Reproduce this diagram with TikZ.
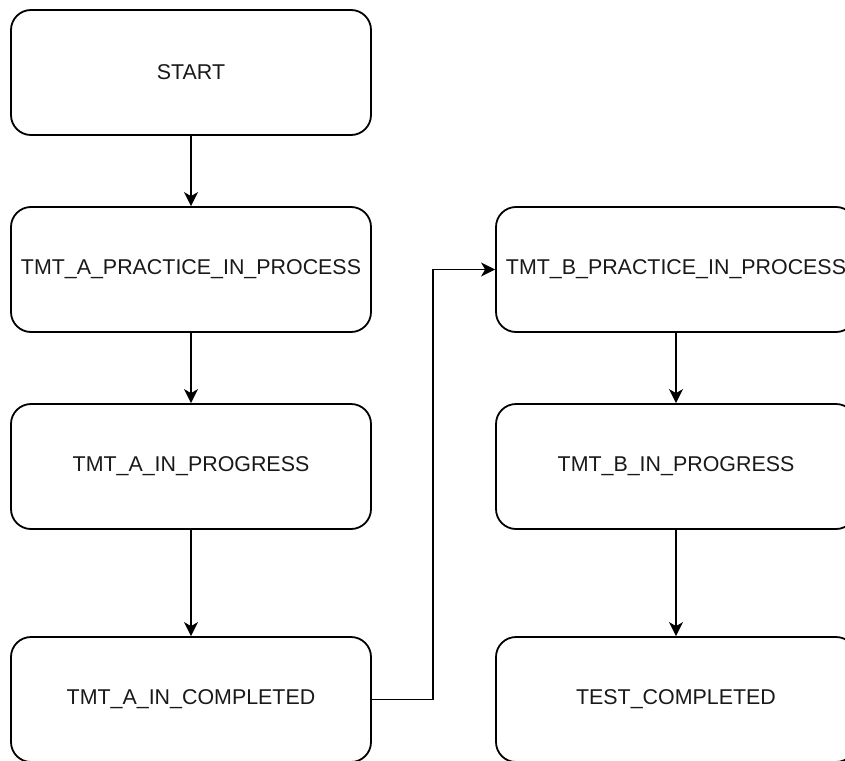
\documentclass[tikz,border=0pt]{standalone}
\usepackage{fontspec}
\setmainfont{Liberation Sans}
\usetikzlibrary{arrows.meta}

\begin{document}
\begin{tikzpicture}[x=1pt, y=-1pt,
  state/.style={draw=black, line width=1.8pt, rounded corners=20pt,
    minimum width=360pt, minimum height=125pt, inner sep=0pt,
    font=\fontsize{21.4}{26}\selectfont, text=black!90},
  flow/.style={line width=1.8pt,
    -{Stealth[length=14pt, width=14pt, inset=4pt]}}]

  \useasboundingbox (0,0) rectangle (845,760);

  % left column
  \node[state] (start) at (191,72.5)  {START};
  \node[state] (apr)   at (191,269.5) {TMT\_A\_PRACTICE\_IN\_PROCESS};
  \node[state] (aip)   at (191,466.5) {TMT\_A\_IN\_PROGRESS};
  \node[state] (acmp)  at (191,699.5) {TMT\_A\_IN\_COMPLETED};

  % right column
  \node[state] (bpr)   at (676,269.5) {TMT\_B\_PRACTICE\_IN\_PROCESS};
  \node[state] (bip)   at (676,466.5) {TMT\_B\_IN\_PROGRESS};
  \node[state] (tcmp)  at (676,699.5) {TEST\_COMPLETED};

  % bend point of the link between the columns
  \coordinate (jog) at (433,480);

  \draw[flow] (start) -- (apr);
  \draw[flow] (apr) -- (aip);
  \draw[flow] (aip) -- (acmp);
  \draw[flow] (acmp.east) -- (acmp.east -| jog) |- (bpr.west);
  \draw[flow] (bpr) -- (bip);
  \draw[flow] (bip) -- (tcmp);
\end{tikzpicture}
\end{document}
